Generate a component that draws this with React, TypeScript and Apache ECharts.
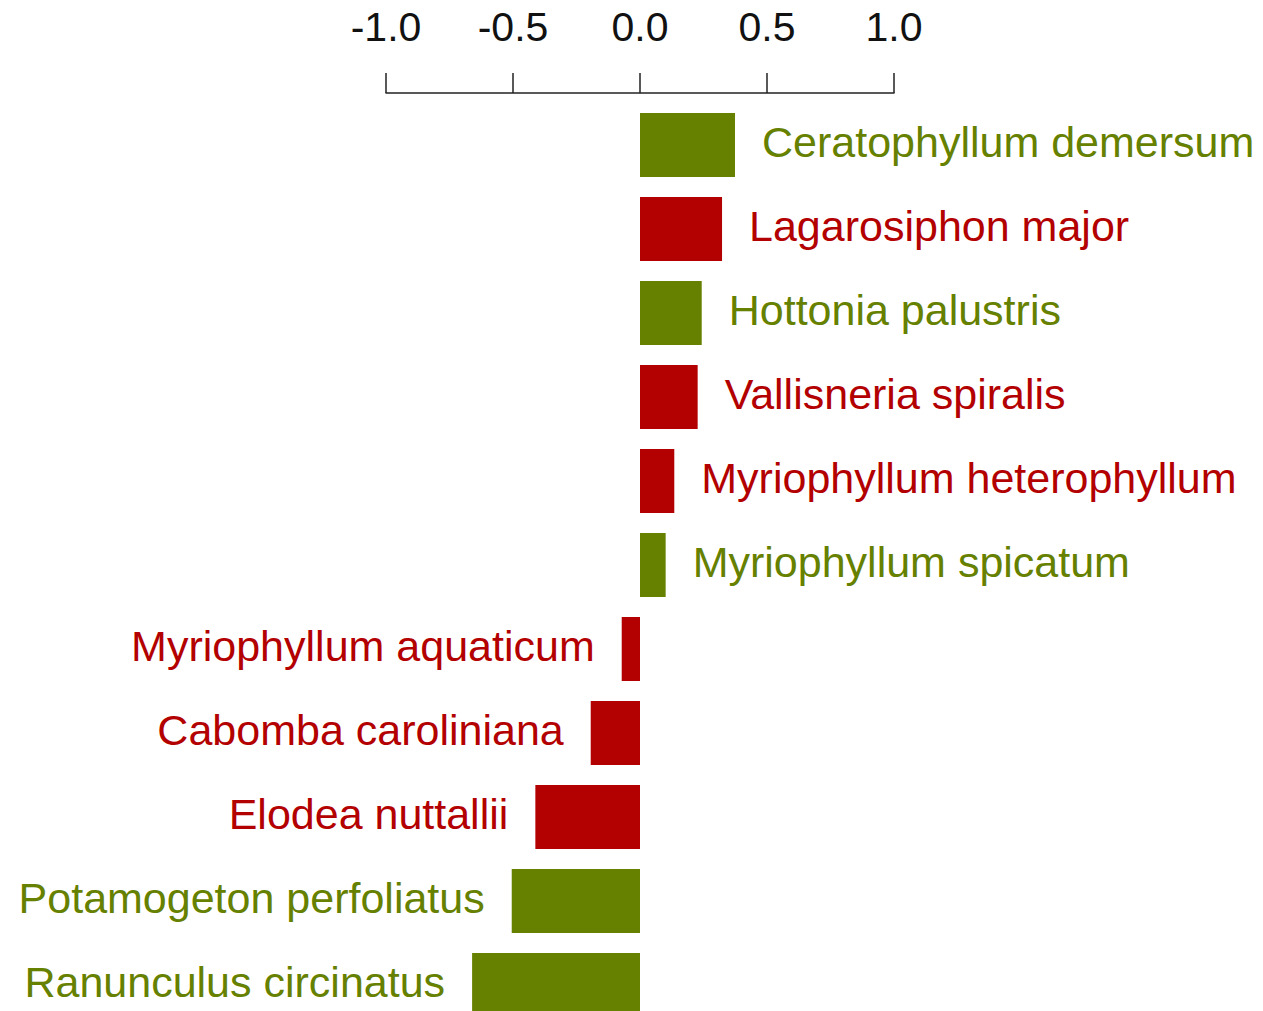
import React, { useEffect, useRef } from "react";
import * as echarts from "echarts";

const species = [
  "Ceratophyllum demersum",
  "Lagarosiphon major",
  "Hottonia palustris",
  "Vallisneria spiralis",
  "Myriophyllum heterophyllum",
  "Myriophyllum spicatum",
  "Myriophyllum aquaticum",
  "Cabomba caroliniana",
  "Elodea nuttallii",
  "Potamogeton perfoliatus",
  "Ranunculus circinatus",
];
const values = [0.374, 0.323, 0.243, 0.227, 0.135, 0.101, -0.072, -0.194, -0.412, -0.505, -0.661];
// "native" = green, "invasive" = red
const groups = ["native", "invasive", "native", "invasive", "invasive", "native", "invasive", "invasive", "invasive", "native", "native"];
const tickValues = [-1.0, -0.5, 0.0, 0.5, 1.0];

const GREEN = "#668000";
const RED = "#b30000";
const FONT = "'Liberation Sans', Arial, sans-serif";

export default function App() {
  const ref = useRef<HTMLDivElement>(null);
  useEffect(() => {
    if (!ref.current) return;
    const chart = echarts.init(ref.current, undefined, { renderer: "svg" });
    const data = values.map((v, i) => {
      const color = groups[i] === "native" ? GREEN : RED;
      return {
        value: v,
        itemStyle: { color },
        label: {
          show: true,
          position: v >= 0 ? "right" : "left",
          distance: 27,
          color,
          fontSize: 43,
          fontFamily: FONT,
          offset: [0, -3],
          formatter: () => species[i],
        },
      };
    });
    chart.setOption({
      animation: false,
      backgroundColor: "#ffffff",
      grid: { left: 386, width: 508, top: 103, height: 924, containLabel: false },
      xAxis: {
        type: "value",
        position: "top",
        min: -1,
        max: 1,
        interval: 0.5,
        offset: 10,
        splitLine: { show: false },
        axisLine: { show: true, lineStyle: { color: "#222", width: 1.5 } },
        axisTick: { show: true, length: 20, inside: false, lineStyle: { color: "#222", width: 1.5 } },
        axisLabel: {
          color: "#111",
          fontSize: 41,
          fontFamily: FONT,
          margin: 46,
          formatter: (v: number) => {
            const t = tickValues.find((x) => Math.abs(x - v) < 1e-9);
            return t === undefined ? "" : t.toFixed(1);
          },
        },
      },
      yAxis: {
        type: "category",
        data: species,
        inverse: true,
        show: false,
      },
      series: [
        {
          type: "bar",
          data,
          barWidth: 64,
        },
      ],
    });
    return () => chart.dispose();
  }, []);
  return (
    <div
      style={{ position: "absolute", left: 0, top: 0, width: 1263, height: 1011, overflow: "hidden", background: "#fff" }}
    >
      <div ref={ref} style={{ width: 1263, height: 1027 }} />
    </div>
  );
}
